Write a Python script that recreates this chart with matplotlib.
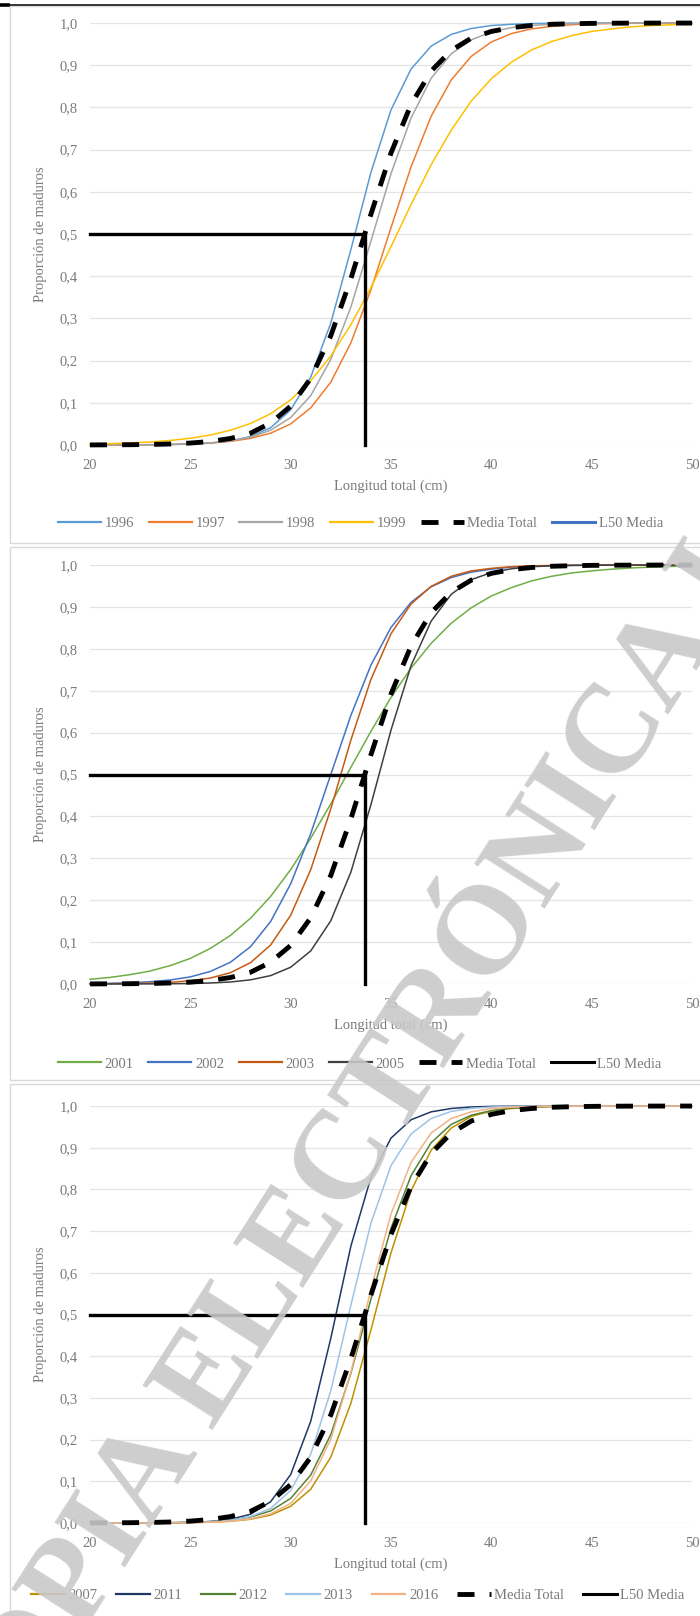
"""Maturity ogives (proporción de maduros vs longitud total), three stacked panels."""
import matplotlib

matplotlib.use("Agg")
import matplotlib.pyplot as plt
from matplotlib.lines import Line2D
from matplotlib.patches import Rectangle

plt.rcParams["font.family"] = ["Liberation Serif", "DejaVu Serif"]

# ---- data ---------------------------------------------------------------
length_cm = list(range(20, 51))
x_ticks = [20, 25, 30, 35, 40, 45, 50]
y_ticks = [0.0, 0.1, 0.2, 0.3, 0.4, 0.5, 0.6, 0.7, 0.8, 0.9, 1.0]
y_tick_labels = ["0,0", "0,1", "0,2", "0,3", "0,4", "0,5", "0,6", "0,7", "0,8", "0,9", "1,0"]

l50_media = 33.7
l50_prop = 0.5

media_total = [.0002, .0004, .0007, .0013, .0024, .0046, .0084, .0155, .028, .052, .092,
               .158, .259, .394, .547, .692, .807, .886, .935, .964, .980,
               .989, .994, .997, .9983, .9991, .9995, .9997, .9998, .9999, .9999]

p1996 = [.0001, .0001, .0002, .0005, .0010, .0021, .0045, .0095, .020, .041, .083,
         .161, .289, .463, .646, .794, .891, .945, .973, .987, .994,
         .997, .9986, .9994, .9997, .9999, .9999, 1, 1, 1, 1]
p1997 = [.0001, .0002, .0004, .0008, .0014, .0026, .0048, .0087, .0157, .028, .050,
         .088, .149, .242, .368, .515, .659, .779, .865, .921, .955,
         .975, .986, .992, .996, .998, .9987, .9993, .9996, .9998, .9999]
p1998 = [.0001, .0002, .0004, .0007, .0014, .0027, .0051, .0098, .0185, .035, .065,
         .117, .203, .327, .483, .643, .775, .869, .927, .960, .979,
         .989, .994, .997, .9984, .9992, .9996, .9998, .9999, .9999, .9999]
p1999 = [.0022, .0033, .0049, .0072, .0108, .0160, .0237, .035, .051, .074, .107,
         .152, .211, .285, .373, .470, .570, .664, .746, .815, .868,
         .907, .936, .956, .970, .980, .986, .991, .994, .996, .997]

p2001 = [.0112, .0158, .0223, .031, .044, .061, .085, .116, .157, .209, .273,
         .348, .430, .517, .603, .684, .754, .813, .861, .898, .926,
         .946, .962, .973, .981, .986, .990, .993, .995, .9966, .9976]
p2002 = [.0009, .0017, .0030, .0054, .0096, .0170, .030, .052, .089, .149, .239,
         .359, .500, .641, .761, .851, .911, .948, .970, .983, .990,
         .995, .997, .9983, .9991, .9995, .9997, .9998, .9999, .9999, .9999]
p2003 = [.0003, .0006, .0011, .0021, .0040, .0076, .0143, .027, .051, .093, .164,
         .273, .418, .582, .727, .836, .907, .949, .973, .986, .992,
         .996, .998, .9989, .9994, .9997, .9998, .9999, .9999, .9999, .9999]
p2005 = [.0000, .0001, .0001, .0003, .0006, .0011, .0024, .0048, .0099, .020, .040,
         .079, .151, .267, .428, .606, .760, .866, .930, .965, .982,
         .991, .996, .998, .999, .9995, .9998, .9999, .9999, .9999, .9999]

p2007 = [0, 0, .0001, .0002, .0004, .0009, .0020, .0042, .0089, .019, .040,
         .081, .158, .287, .463, .648, .797, .894, .947, .975, .988,
         .994, .997, .9988, .9994, .9997, .9999, .9999, 1, 1, 1]
p2011 = [0, 0, .0001, .0002, .0006, .0015, .0036, .0088, .021, .051, .116,
         .244, .443, .664, .829, .923, .967, .986, .994, .9977, .9991,
         .9996, .9998, .9999, 1, 1, 1, 1, 1, 1, 1]
p2012 = [0, .0001, .0002, .0004, .0008, .0016, .0034, .0070, .0143, .029, .059,
         .115, .212, .359, .537, .707, .833, .912, .956, .978, .989,
         .995, .9975, .9988, .9994, .9997, .9999, .9999, 1, 1, 1]
p2013 = [0, 0, .0001, .0002, .0005, .0012, .0028, .0066, .0152, .035, .078,
         .165, .317, .522, .719, .857, .933, .970, .987, .9945, .9976,
         .999, .9996, .9998, .9999, 1, 1, 1, 1, 1, 1]
p2016 = [0, 0, .0001, .0002, .0004, .0009, .0019, .0044, .0098, .022, .047,
         .101, .201, .361, .560, .741, .865, .935, .970, .986, .994,
         .997, .9988, .9995, .9998, .9999, 1, 1, 1, 1, 1]

panel1 = [("1996", p1996, "#5B9BD5"), ("1997", p1997, "#ED7D31"),
          ("1998", p1998, "#A5A5A5"), ("1999", p1999, "#FFC000")]
panel2 = [("2001", p2001, "#70AD47"), ("2002", p2002, "#4472C4"),
          ("2003", p2003, "#C55A11"), ("2005", p2005, "#3F3F3F")]
panel3 = [("2007", p2007, "#BF9000"), ("2011", p2011, "#1F3864"),
          ("2012", p2012, "#548235"), ("2013", p2013, "#9DC3E6"),
          ("2016", p2016, "#F4B183")]

W, H = 700, 1616
TXT = "#7a7a7a"
FS = 10.5
DASH = (0, (3.5, 3.1))


def draw_panel(fig, top_px, bottom_px, curves, l50_color, legend_y_px, legend_x_px,
               handlelength, columnspacing):
    ax = fig.add_axes([90 / W, 1 - bottom_px / H, 602 / W, (bottom_px - top_px) / H])
    for label, values, color in curves:
        ax.plot(length_cm, values, color=color, lw=1.1, clip_on=False)
    ax.plot(length_cm, media_total, color="black", lw=3.5, ls=DASH, clip_on=False)
    ax.plot([length_cm[0], l50_media, l50_media], [l50_prop, l50_prop, 0],
            color="black", lw=2.4, solid_joinstyle="miter", clip_on=False)

    ax.set_xlim(20, 50)
    ax.set_ylim(0, 1)
    ax.set_xticks(x_ticks)
    ax.set_yticks(y_ticks)
    ax.set_yticklabels(y_tick_labels)
    for s in ax.spines.values():
        s.set_visible(False)
    ax.grid(axis="y", color="#e4e4e4", lw=0.9)
    ax.set_axisbelow(True)
    ax.tick_params(length=0, labelsize=FS, labelcolor=TXT)
    ax.tick_params(axis="y", pad=9)
    ax.tick_params(axis="x", pad=10)
    ax.set_xlabel("Longitud total (cm)", fontsize=FS, color=TXT)
    ax.xaxis.set_label_coords(0.5, -35 / (bottom_px - top_px))
    ax.set_ylabel("Proporción de maduros", fontsize=FS, color=TXT)
    ax.yaxis.set_label_coords(-43 / 602, 0.5)

    handles = [Line2D([], [], color=c, lw=1.6) for _, _, c in curves]
    handles.append(Line2D([], [], color="black", lw=3.5, ls=DASH))
    handles.append(Line2D([], [], color=l50_color, lw=2.2))
    labels = [lab for lab, _, _ in curves] + ["Media Total", "L50 Media"]
    ax.legend(handles, labels, loc="center left",
              bbox_to_anchor=(legend_x_px / W, 1 - legend_y_px / H),
              bbox_transform=fig.transFigure, ncol=len(labels), frameon=False,
              fontsize=FS, labelcolor=TXT, handlelength=handlelength,
              handletextpad=0.25, columnspacing=columnspacing,
              borderpad=0, borderaxespad=0)
    return ax


fig = plt.figure(figsize=(W / 100, H / 100), dpi=100)

# panel frames and the page rule at the top
for y0, y1 in [(6, 543), (547, 1080), (1084, 1630)]:
    fig.add_artist(Rectangle((10 / W, 1 - y1 / H), 1.0, (y1 - y0) / H, fill=False,
                             ec="#d9d9d9", lw=1.0, transform=fig.transFigure))
fig.add_artist(Line2D([0, 1], [1 - 5 / H] * 2, color="black", lw=1.1,
                      transform=fig.transFigure))
fig.add_artist(Line2D([0, 8 / W], [1 - 5 / H] * 2, color="black", lw=2.6,
                      transform=fig.transFigure))

draw_panel(fig, 23, 445, panel1, "#4472C4", 523, 58, 2.95, 1.0)
draw_panel(fig, 565, 984, panel2, "black", 1064, 58, 2.95, 1.0)
draw_panel(fig, 1106, 1523, panel3, "black", 1595, 31, 2.3, 1.3)

# diagonal watermark
fig.text(-20 / W, 1 - 1795 / H, "COPIA ELECTRÓNICA I", rotation=57.5,
         rotation_mode="anchor", ha="left", va="baseline", fontsize=91,
         fontweight="bold", color="#c9c9c9", alpha=0.9, zorder=10)

fig.savefig("out.png", dpi=100)
